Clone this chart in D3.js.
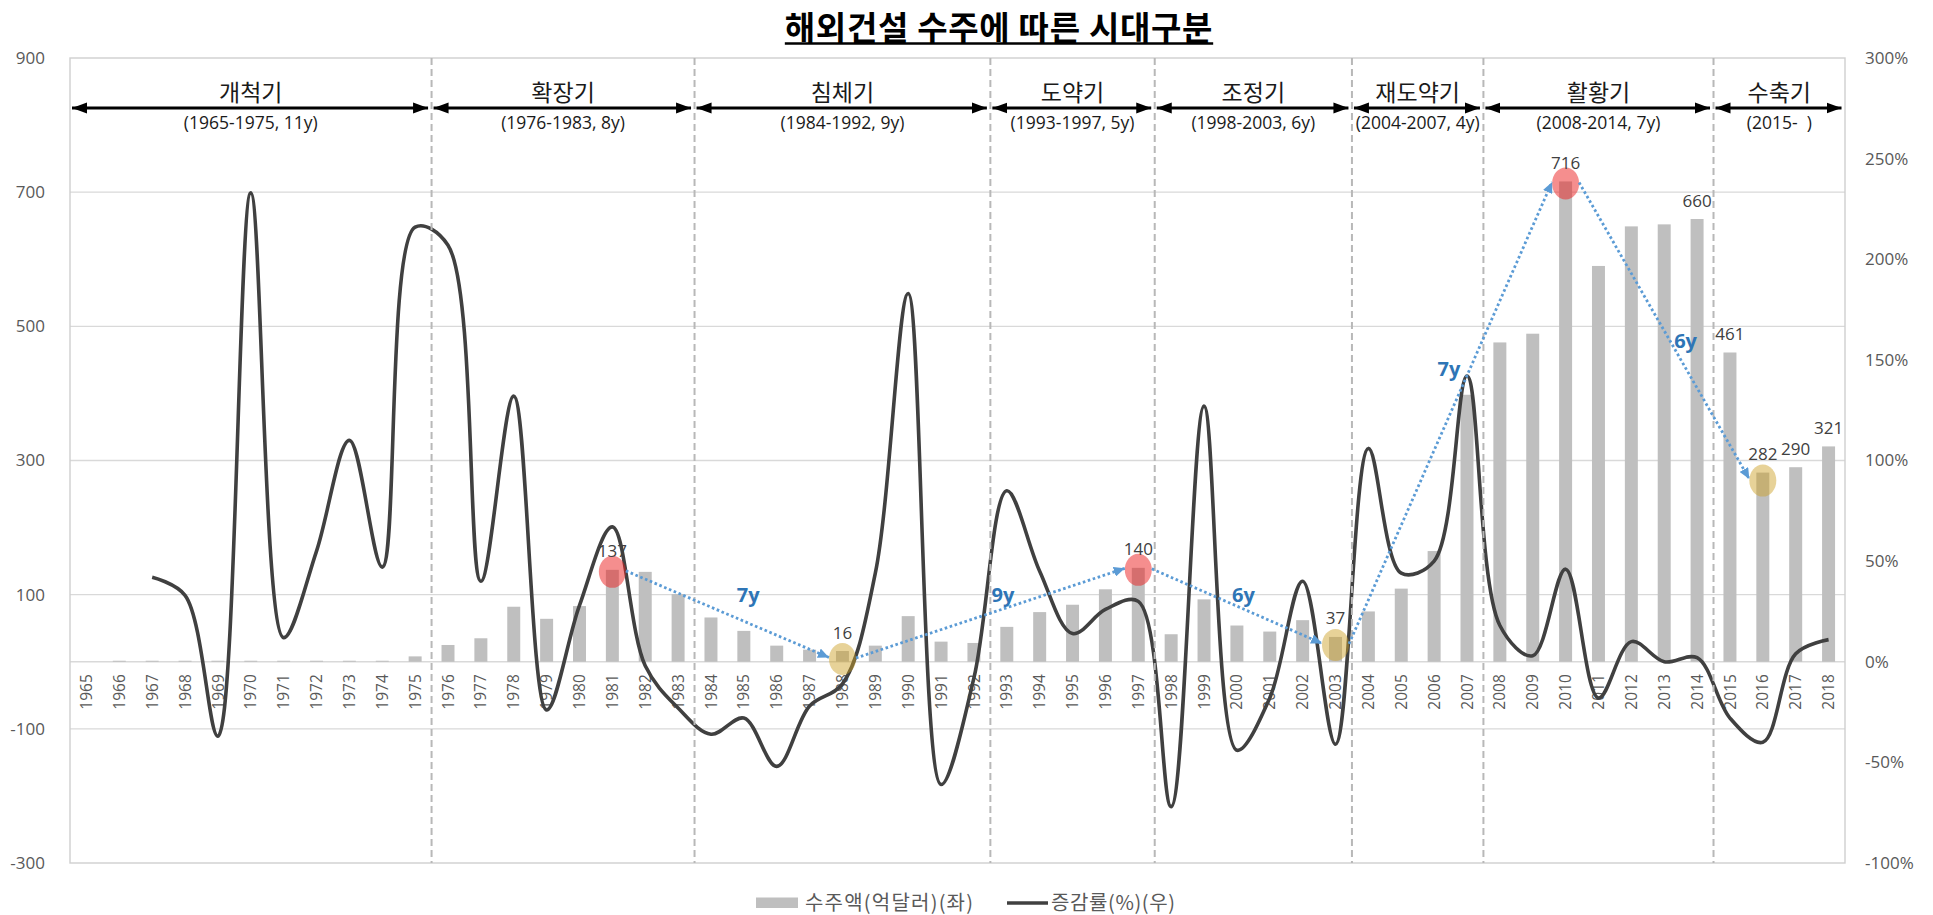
<!DOCTYPE html>
<html>
<head>
<meta charset="utf-8">
<script src="https://cdn.jsdelivr.net/npm/d3@7"></script>
<style>
  html, body { margin: 0; padding: 0; background: #fff; }
  svg { display: block; }
</style>
</head>
<body>
<svg id="chart" width="1933" height="915"></svg>
<script>
// ---- data ----------------------------------------------------------------
const years = d3.range(1965, 2019).map(String);

// 수주액 (억달러)
const orders = [
  0, 1.5, 1.5, 1.5, 1.5, 1.5, 1.5, 1.5, 1.5, 1.5, 8,
  25, 35, 82, 64, 83, 137, 134, 101,
  66, 46, 24, 18, 16, 24, 68, 30, 28,
  52, 74, 85, 108, 140,
  41, 93, 54, 45, 62, 37,
  75, 109, 165, 398,
  476, 489, 716, 590, 649, 652, 660,
  461, 282, 290, 321
];

// 증감률 (%), no value for the first two years
const growth = [
  null, null, 42, 33, -37, 233, 12, 55, 110, 47, 216,
  207, 40, 132, -24, 28, 67, -2, -23,
  -36, -28, -52, -22, -11, 44, 183, -61, -8,
  85, 45, 14, 26, 30,
  -72, 127, -44, -18, 40, -41,
  106, 44, 50, 142,
  18, 3, 46, -18, 10, 0, 2,
  -28, -40, 4, 11
];

const leftTicks  = [-300, -100, 100, 300, 500, 700, 900];
const rightTicks = [-100, -50, 0, 50, 100, 150, 200, 250, 300];

const periodNames = ['개척기', '확장기', '침체기', '도약기', '조정기', '재도약기', '활황기', '수축기'];
const periodSpans = ['(1965-1975, 11y)', '(1976-1983, 8y)', '(1984-1992, 9y)', '(1993-1997, 5y)',
                     '(1998-2003, 6y)', '(2004-2007, 4y)', '(2008-2014, 7y)', '(2015-  )'];
const periodStart = ['1965', '1976', '1984', '1993', '1998', '2004', '2008', '2015'];
const periodEnd   = ['1975', '1983', '1992', '1997', '2003', '2007', '2014', '2018'];

const peakYears   = ['1981', '1997', '2010'];
const troughYears = ['1988', '2003', '2016'];
const labelYears  = ['1981', '1988', '1997', '2003', '2010', '2014', '2015', '2016', '2017', '2018'];

// cycle arrows between highlighted years, with their duration labels (placed in data space)
const cycleFrom = ['1981', '1988', '1997', '2003', '2010'];
const cycleTo   = ['1988', '1997', '2003', '2010', '2016'];
const cycleText = ['7y', '9y', '6y', '7y', '6y'];
const cycleAtYear  = [1985.13, 1992.88, 2000.2, 2006.45, 2013.65];
const cycleAtValue = [100, 100, 100, 436, 478];

const legendBar  = '수주액(억달러)(좌)';
const legendLine = '증감률(%)(우)';
const titleText  = '해외건설 수주에 따른 시대구분';

// ---- layout --------------------------------------------------------------
const W = 1933, H = 915;
const plot = { left: 70, right: 1845, top: 58, bottom: 863 };
const KR  = '"Noto Sans CJK KR", sans-serif';
const NUM = '"Open Sans", "Noto Sans", sans-serif';
const hyphen = s => String(s).replace('\u2212', '-');

const svg = d3.select('#chart');

const x = d3.scaleBand()
  .domain(years)
  .range([plot.left, plot.right])
  .paddingInner(0.605)
  .paddingOuter(0.3025);
const step = x.step();
const cx = yr => x(yr) + x.bandwidth() / 2;
const xAt = yf => x(years[0]) + x.bandwidth() / 2 + (yf - +years[0]) * step;
const edge = i => plot.left + i * step;   // boundary before category i

const yL = d3.scaleLinear().domain([-300, 900]).range([plot.bottom, plot.top]);
const yR = d3.scaleLinear().domain([-100, 300]).range([plot.bottom, plot.top]);

const valueOf = yr => orders[years.indexOf(yr)];

// ---- grid & frame --------------------------------------------------------
const grid = svg.append('g');
grid.selectAll('line.h')
  .data(leftTicks.filter(v => v > -300 && v < 900).concat([0]))
  .join('line')
  .attr('x1', plot.left).attr('x2', plot.right)
  .attr('y1', d => yL(d)).attr('y2', d => yL(d))
  .attr('stroke', '#d9d9d9').attr('stroke-width', 1.4);
grid.append('rect')
  .attr('x', plot.left).attr('y', plot.top)
  .attr('width', plot.right - plot.left).attr('height', plot.bottom - plot.top)
  .attr('fill', 'none').attr('stroke', '#cfcfcf').attr('stroke-width', 1.4);

// ---- bars ----------------------------------------------------------------
svg.append('g').selectAll('rect')
  .data(years.map((yr, i) => ({ yr, v: orders[i] })).filter(d => d.v > 0))
  .join('rect')
  .attr('x', d => x(d.yr))
  .attr('width', x.bandwidth())
  .attr('y', d => yL(d.v))
  .attr('height', d => yL(0) - yL(d.v))
  .attr('fill', '#bfbfbf');

// ---- category axis labels ------------------------------------------------
const xAxis = svg.append('g')
  .attr('transform', `translate(0,${yL(0)})`)
  .call(d3.axisBottom(x).tickSize(0).tickPadding(0));
xAxis.select('.domain').remove();
xAxis.selectAll('text')
  .attr('transform', 'translate(0,12.5) rotate(-90)')
  .attr('text-anchor', 'end')
  .attr('x', 0).attr('y', 0).attr('dy', '0.36em')
  .style('font-family', NUM).style('font-size', '15.5px').attr('fill', '#595959');

// ---- growth line ---------------------------------------------------------
const line = d3.line()
  .defined(d => d.g !== null)
  .x(d => cx(d.yr))
  .y(d => yR(d.g))
  .curve(d3.curveCatmullRom.alpha(0.5));
svg.append('path')
  .datum(years.map((yr, i) => ({ yr, g: growth[i] })))
  .attr('d', line)
  .attr('fill', 'none')
  .attr('stroke', '#404040')
  .attr('stroke-width', 3.6)
  .attr('stroke-linejoin', 'round');

// ---- period separators ---------------------------------------------------
const sepIdx = periodStart.slice(1).map(yr => years.indexOf(yr));
svg.append('g').selectAll('line')
  .data(sepIdx)
  .join('line')
  .attr('x1', d => edge(d)).attr('x2', d => edge(d))
  .attr('y1', plot.top).attr('y2', plot.bottom)
  .attr('stroke', '#b8b8b8').attr('stroke-width', 2)
  .attr('stroke-dasharray', '7 4');

// ---- highlight ellipses --------------------------------------------------
const hl = peakYears.map(yr => ({ yr, fill: 'rgba(235,30,30,0.5)', dy: 2 }))
  .concat(troughYears.map(yr => ({ yr, fill: 'rgba(205,160,40,0.48)', dy: 8 })));
const hlY = d => yL(valueOf(d.yr)) + d.dy;
svg.append('g').selectAll('ellipse')
  .data(hl)
  .join('ellipse')
  .attr('cx', d => cx(d.yr)).attr('cy', hlY)
  .attr('rx', 13.5).attr('ry', 16)
  .attr('fill', d => d.fill);

// ---- cycle arrows --------------------------------------------------------
const defs = svg.append('defs');
defs.append('marker')
  .attr('id', 'blueHead').attr('markerUnits', 'userSpaceOnUse')
  .attr('markerWidth', 12).attr('markerHeight', 10)
  .attr('refX', 11).attr('refY', 5).attr('orient', 'auto')
  .append('path').attr('d', 'M0,0 L11,5 L0,10 Z').attr('fill', '#5b9bd5');
defs.append('marker')
  .attr('id', 'blackHead').attr('markerUnits', 'userSpaceOnUse')
  .attr('markerWidth', 16).attr('markerHeight', 12)
  .attr('refX', 15).attr('refY', 6).attr('orient', 'auto-start-reverse')
  .append('path').attr('d', 'M0,0.5 L15,6 L0,11.5 Z').attr('fill', '#000');

const hlByYear = new Map(hl.map(d => [d.yr, d]));
svg.append('g').selectAll('line')
  .data(cycleFrom.map((f, i) => ({ f: hlByYear.get(f), t: hlByYear.get(cycleTo[i]) })))
  .join('line')
  .attr('x1', d => cx(d.f.yr) + 13.5).attr('y1', d => hlY(d.f) - 1)
  .attr('x2', d => cx(d.t.yr) - 13.5).attr('y2', d => hlY(d.t) - 1.5)
  .attr('stroke', '#5b9bd5').attr('stroke-width', 2.8)
  .attr('stroke-dasharray', '2.6 2.6')
  .attr('marker-end', 'url(#blueHead)');

svg.append('g').selectAll('text')
  .data(cycleText.map((t, i) => ({ t, xf: cycleAtYear[i], v: cycleAtValue[i] })))
  .join('text')
  .attr('x', d => xAt(d.xf)).attr('y', d => yL(d.v))
  .attr('dy', '0.36em').attr('text-anchor', 'middle')
  .style('font-family', NUM).style('font-size', '20px').style('font-weight', 700)
  .attr('fill', '#2e75b6')
  .text(d => d.t);

// ---- value labels --------------------------------------------------------
svg.append('g').selectAll('text')
  .data(labelYears)
  .join('text')
  .attr('x', d => cx(d)).attr('y', d => yL(valueOf(d)) - 12.5)
  .attr('text-anchor', 'middle')
  .style('font-family', NUM).style('font-size', '17px')
  .attr('fill', '#404040')
  .text(d => valueOf(d));

// ---- period header -------------------------------------------------------
const header = svg.append('g');
const periods = periodNames.map((n, i) => ({
  n, s: periodSpans[i],
  a: years.indexOf(periodStart[i]), b: years.indexOf(periodEnd[i]) + 1
}));
header.selectAll('line')
  .data(periods)
  .join('line')
  .attr('x1', d => edge(d.a) + 2).attr('x2', d => edge(d.b) - 3.5)
  .attr('y1', 108).attr('y2', 108)
  .attr('stroke', '#000').attr('stroke-width', 3)
  .attr('marker-start', 'url(#blackHead)')
  .attr('marker-end', 'url(#blackHead)');
header.selectAll('text.name')
  .data(periods)
  .join('text').attr('class', 'name')
  .attr('x', d => (edge(d.a) + edge(d.b)) / 2).attr('y', 93)
  .attr('dy', '0.36em').attr('text-anchor', 'middle')
  .style('font-family', KR).style('font-size', '23px')
  .attr('fill', '#1a1a1a')
  .text(d => d.n);
header.selectAll('text.span')
  .data(periods)
  .join('text').attr('class', 'span')
  .attr('x', d => (edge(d.a) + edge(d.b)) / 2).attr('y', 122.5)
  .attr('dy', '0.36em').attr('text-anchor', 'middle')
  .style('font-family', NUM).style('font-size', '17.5px')
  .attr('fill', '#1a1a1a')
  .style('white-space', 'pre')
  .text(d => d.s);

// ---- value axes ----------------------------------------------------------
const axL = svg.append('g')
  .attr('transform', `translate(${plot.left},0)`)
  .call(d3.axisLeft(yL).tickValues(leftTicks).tickSize(0).tickPadding(25)
    .tickFormat(d => hyphen(d)));
axL.select('.domain').remove();
axL.selectAll('text')
  .style('font-family', NUM).style('font-size', '17px').attr('fill', '#595959');

const axR = svg.append('g')
  .attr('transform', `translate(${plot.right},0)`)
  .call(d3.axisRight(yR).tickValues(rightTicks).tickSize(0).tickPadding(20)
    .tickFormat(d => hyphen(d) + '%'));
axR.select('.domain').remove();
axR.selectAll('text')
  .style('font-family', NUM).style('font-size', '17px').attr('fill', '#595959');

// ---- legend --------------------------------------------------------------
const lg = svg.append('g');
lg.append('rect').attr('x', 756).attr('y', 897.5).attr('width', 42).attr('height', 10.5)
  .attr('fill', '#bfbfbf');
lg.append('text').attr('x', 805).attr('y', 903).attr('dy', '0.36em')
  .style('font-family', KR).style('font-size', '20px').attr('fill', '#595959')
  .attr('textLength', 168).attr('lengthAdjust', 'spacing')
  .text(legendBar);
lg.append('line').attr('x1', 1007).attr('x2', 1048).attr('y1', 903).attr('y2', 903)
  .attr('stroke', '#404040').attr('stroke-width', 3.6);
lg.append('text').attr('x', 1051).attr('y', 903).attr('dy', '0.36em')
  .style('font-family', KR).style('font-size', '20px').attr('fill', '#595959')
  .attr('textLength', 124).attr('lengthAdjust', 'spacing')
  .text(legendLine);

// ---- title ---------------------------------------------------------------
const title = svg.append('text')
  .attr('x', 999).attr('y', 39.5).attr('text-anchor', 'middle')
  .style('font-family', KR).style('font-size', '33px').style('font-weight', 700)
  .style('letter-spacing', '0.7px')
  .attr('fill', '#000')
  .text(titleText);
const tw = title.node().getComputedTextLength();
svg.append('line')
  .attr('x1', 999 - tw / 2).attr('x2', 999 + tw / 2)
  .attr('y1', 43.5).attr('y2', 43.5)
  .attr('stroke', '#000').attr('stroke-width', 2.5);
</script>
</body>
</html>
